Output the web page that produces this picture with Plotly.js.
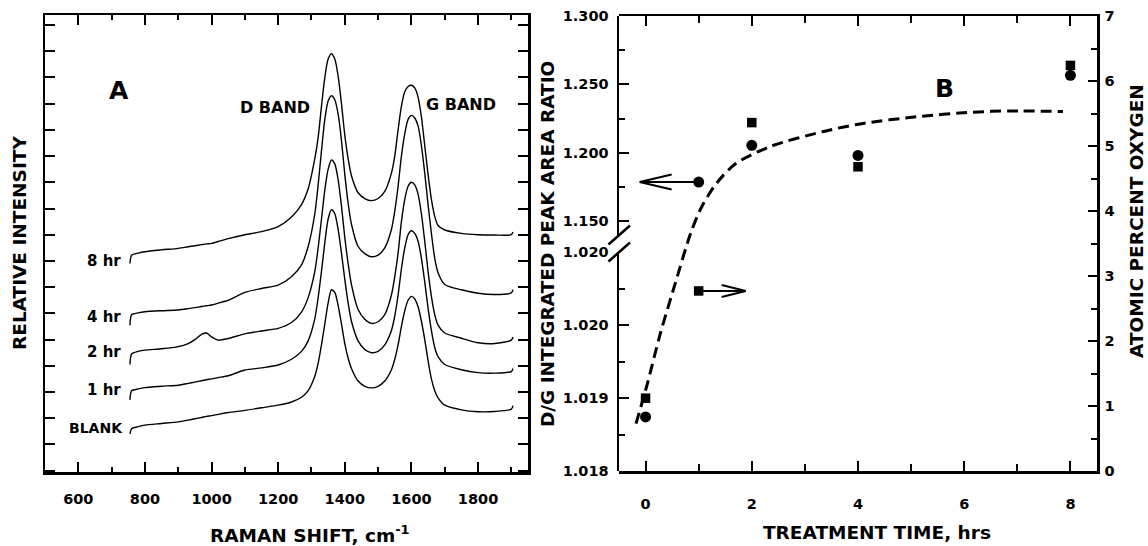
<!DOCTYPE html>
<html>
<head>
<meta charset="utf-8">
<script src="https://cdn.plot.ly/plotly-3.0.1.min.js"></script>
<style>html,body{margin:0;padding:0;background:#fff}#chart{width:1148px;height:546px}</style>
</head>
<body>
<div id="chart"></div>
<script>
// ---------- Panel A : Raman spectra ----------
const ramanShift = [755, 760, 780, 800, 850, 900, 930, 950, 970, 985, 1000, 1020, 1050, 1100, 1150, 1200, 1240, 1270, 1290, 1310, 1320, 1330, 1340, 1350, 1360, 1370, 1380, 1390, 1400, 1410, 1420, 1440, 1460, 1480, 1500, 1520, 1540, 1550, 1560, 1570, 1580, 1590, 1600, 1610, 1620, 1630, 1640, 1650, 1660, 1670, 1680, 1700, 1750, 1800, 1850, 1900, 1905];
const specBlank = [1.40, 1.60, 1.68, 1.74, 1.80, 1.86, 1.93, 1.98, 2.03, 2.07, 2.10, 2.15, 2.22, 2.30, 2.40, 2.50, 2.62, 2.80, 3.05, 3.60, 4.10, 4.80, 5.60, 6.40, 6.90, 6.80, 6.30, 5.60, 4.85, 4.30, 3.90, 3.42, 3.22, 3.16, 3.22, 3.42, 3.85, 4.25, 4.80, 5.50, 6.10, 6.50, 6.65, 6.55, 6.25, 5.70, 5.00, 4.20, 3.50, 3.05, 2.78, 2.50, 2.32, 2.25, 2.26, 2.35, 2.48];
const spec1hr = [2.70, 3.05, 3.12, 3.17, 3.22, 3.26, 3.33, 3.38, 3.43, 3.47, 3.50, 3.55, 3.62, 3.84, 3.92, 4.03, 4.25, 4.55, 4.95, 5.80, 6.60, 7.60, 8.70, 9.60, 9.95, 9.80, 9.20, 8.30, 7.30, 6.40, 5.70, 4.95, 4.62, 4.50, 4.55, 4.80, 5.35, 5.90, 6.70, 7.70, 8.50, 9.00, 9.15, 9.05, 8.75, 8.10, 7.20, 6.20, 5.35, 4.70, 4.35, 4.05, 3.85, 3.74, 3.72, 3.78, 3.90];
const spec2hr = [4.05, 4.45, 4.55, 4.60, 4.65, 4.73, 4.85, 5.00, 5.20, 5.25, 5.10, 4.98, 5.04, 5.22, 5.33, 5.43, 5.65, 6.05, 6.60, 7.60, 8.50, 9.60, 10.70, 11.50, 11.85, 11.70, 11.10, 10.10, 8.90, 7.90, 7.10, 6.15, 5.78, 5.62, 5.68, 5.95, 6.70, 7.40, 8.30, 9.50, 10.35, 10.85, 11.00, 10.90, 10.55, 9.80, 8.75, 7.60, 6.65, 5.95, 5.55, 5.25, 5.05, 4.88, 4.85, 4.98, 5.10];
const spec4hr = [5.55, 5.95, 6.02, 6.06, 6.10, 6.13, 6.18, 6.22, 6.26, 6.29, 6.32, 6.39, 6.50, 6.80, 6.95, 7.08, 7.40, 7.85, 8.55, 9.80, 10.90, 12.20, 13.40, 14.10, 14.30, 14.15, 13.60, 12.60, 11.30, 10.20, 9.40, 8.55, 8.28, 8.16, 8.22, 8.50, 9.20, 9.90, 10.85, 12.00, 12.85, 13.40, 13.55, 13.45, 13.15, 12.40, 11.35, 10.15, 9.05, 8.10, 7.55, 7.10, 6.90, 6.77, 6.72, 6.78, 6.90];
const spec8hr = [7.90, 8.22, 8.30, 8.35, 8.42, 8.48, 8.54, 8.58, 8.62, 8.65, 8.67, 8.74, 8.85, 9.00, 9.12, 9.31, 9.68, 10.15, 10.75, 11.90, 12.70, 13.90, 15.00, 15.70, 15.90, 15.70, 15.05, 14.00, 12.80, 11.90, 11.25, 10.60, 10.38, 10.30, 10.38, 10.65, 11.35, 12.00, 13.00, 13.90, 14.45, 14.65, 14.70, 14.60, 14.25, 13.50, 12.40, 11.30, 10.35, 9.70, 9.35, 9.18, 9.05, 9.00, 8.99, 9.00, 9.10];
const spectraLabels = ['BLANK', '1 hr', '2 hr', '4 hr', '8 hr'];
const spectraLabelY = [1.61, 3.07, 4.51, 5.87, 8.01];
const ramanTicks = [600, 800, 1000, 1200, 1400, 1600, 1800];

// ---------- Panel B : treatment time ----------
const treatTime = [0, 1, 2, 4, 8];
const dgRatio = [1.01874, 1.1785, 1.2054, 1.1980, 1.2566];
const atomicO = [1.12, 2.77, 5.36, 4.68, 6.24];
const fitTime = [-0.18, 0.02, 0.28, 0.56, 0.85, 1.06, 1.34, 1.70, 2.34, 3.33, 4.04, 5.10, 6.16, 6.86, 7.86];
const fitO = [0.73, 1.30, 2.12, 2.89, 3.66, 4.07, 4.43, 4.73, 4.99, 5.22, 5.34, 5.45, 5.52, 5.54, 5.53];
const timeTicks = [0, 2, 4, 6, 8];
const dgUpperTicks = [1.150, 1.200, 1.250, 1.300];
const dgUpperMinor = [1.175, 1.225, 1.275];
const dgLowerTicks = [1.018, 1.019, 1.020, 1.021];
const dgLowerText = ['1.018', '1.019', '1.020', '1.020'];
const dgLowerMinor = [1.0185, 1.0195, 1.0205];

// ---------- geometry helpers ----------
const W = 1148, H = 546;
const fx = px => px / W;
const fy = py => 1 - py / H;
const FONT = 'DejaVu Sans, Liberation Sans, Arial, sans-serif';
const ink = '#000';

const traces = [];
const specs = [specBlank, spec1hr, spec2hr, spec4hr, spec8hr];
specs.forEach((s, i) => traces.push({
  x: ramanShift, y: s, type: 'scatter', mode: 'lines', name: spectraLabels[i],
  line: {color: ink, width: 1.4, shape: 'spline', smoothing: 0.7},
  xaxis: 'x', yaxis: 'y', hoverinfo: 'skip'
}));

traces.push({
  x: fitTime, y: fitO, type: 'scatter', mode: 'lines',
  line: {color: ink, width: 3, dash: '11px,6px', shape: 'spline', smoothing: 0.8},
  xaxis: 'x2', yaxis: 'y2', cliponaxis: false
});
traces.push({
  x: treatTime, y: atomicO, type: 'scatter', mode: 'markers',
  marker: {symbol: 'square', size: 9.5, color: ink},
  xaxis: 'x2', yaxis: 'y2', cliponaxis: false
});
const lowT = [], lowR = [], upT = [], upR = [];
treatTime.forEach((t, i) => {
  if (dgRatio[i] < 1.1) { lowT.push(t); lowR.push(dgRatio[i]); }
  else { upT.push(t); upR.push(dgRatio[i]); }
});
traces.push({
  x: upT, y: upR, type: 'scatter', mode: 'markers',
  marker: {symbol: 'circle', size: 11, color: ink},
  xaxis: 'x2', yaxis: 'y3', cliponaxis: false
});
traces.push({
  x: lowT, y: lowR, type: 'scatter', mode: 'markers',
  marker: {symbol: 'circle', size: 11, color: ink},
  xaxis: 'x2', yaxis: 'y4', cliponaxis: false
});

const tickFont = {family: FONT, size: 14.5, color: ink, weight: 'bold'};
const baseAxis = {
  showgrid: false, zeroline: false, showline: true, linecolor: ink, linewidth: 2.5,
  ticks: 'inside', tickcolor: ink, tickwidth: 2, tickfont: tickFont, fixedrange: true
};

const layout = {
  width: W, height: H, autosize: false,
  margin: {l: 0, r: 0, t: 0, b: 0, pad: 0},
  paper_bgcolor: '#fff', plot_bgcolor: 'rgba(0,0,0,0)',
  showlegend: false,
  xaxis: Object.assign({}, baseAxis, {
    domain: [fx(45), fx(528)], range: [500, 1950], anchor: 'y',
    tickmode: 'array', tickvals: ramanTicks, ticklen: 10, mirror: 'ticks',
    ticklabelstandoff: 12,
    minor: {ticks: 'inside', dtick: 100, tick0: 500, ticklen: 5, tickwidth: 2, tickcolor: ink}
  }),
  yaxis: Object.assign({}, baseAxis, {
    domain: [fy(472), fy(15)], range: [-0.05, 17.38], anchor: 'x',
    tickmode: 'linear', tick0: 0, dtick: 1, ticklen: 10, mirror: 'ticks',
    showticklabels: false
  }),
  xaxis2: Object.assign({}, baseAxis, {
    domain: [fx(619), fx(1097)], range: [-0.5, 8.5], anchor: 'y2',
    tickmode: 'array', tickvals: timeTicks, ticklen: 10, mirror: 'ticks',
    ticklabelstandoff: 18,
    minor: {ticks: 'inside', dtick: 1, tick0: 0, ticklen: 7, tickwidth: 2, tickcolor: ink}
  }),
  yaxis2: Object.assign({}, baseAxis, {
    domain: [fy(471), fy(16)], range: [0, 7], anchor: 'x2', side: 'right',
    tickmode: 'linear', tick0: 0, dtick: 1, ticklen: 9, ticklabelstandoff: 2,
    minor: {ticks: 'inside', dtick: 0.5, tick0: 0, ticklen: 6, tickwidth: 2, tickcolor: ink}
  }),
  yaxis3: Object.assign({}, baseAxis, {
    domain: [fy(235), fy(16)], range: [1.13975, 1.300], anchor: 'x2', side: 'left',
    tickmode: 'array', tickvals: dgUpperTicks, tickformat: '.3f', ticklen: 10,
    ticklabelstandoff: 5,
    minor: {ticks: 'inside', tickmode: 'array', tickvals: dgUpperMinor, ticklen: 6, tickwidth: 2, tickcolor: ink}
  }),
  yaxis4: Object.assign({}, baseAxis, {
    domain: [fy(471), fy(252)], range: [1.018, 1.021], anchor: 'x2', side: 'left',
    tickmode: 'array', tickvals: dgLowerTicks, ticktext: dgLowerText, ticklen: 10,
    ticklabelstandoff: 5,
    minor: {ticks: 'inside', tickmode: 'array', tickvals: dgLowerMinor, ticklen: 6, tickwidth: 2, tickcolor: ink}
  }),
  shapes: [],
  annotations: []
};

// axis-break slashes on the left axis of panel B
[235, 252].forEach(cy => layout.shapes.push({
  type: 'line', xref: 'paper', yref: 'paper',
  x0: fx(608.5), y0: fy(cy + 9.5), x1: fx(630), y1: fy(cy - 9.5),
  line: {color: ink, width: 2.5}
}));

// arrows that point from the t = 1 h markers to their axes
layout.shapes.push({
  type: 'path', xref: 'x2', yref: 'y3', xsizemode: 'pixel', ysizemode: 'pixel',
  xanchor: treatTime[1], yanchor: dgRatio[1],
  path: 'M -5,0 L -59,0 M -27,7.5 L -59,0 L -27,-7.5',
  line: {color: ink, width: 2}
});
layout.shapes.push({
  type: 'path', xref: 'x2', yref: 'y2', xsizemode: 'pixel', ysizemode: 'pixel',
  xanchor: treatTime[1], yanchor: atomicO[1],
  path: 'M 4,0 L 47,0 M 23,6 L 47,0 L 23,-6',
  line: {color: ink, width: 2}
});

const ann = (o) => layout.annotations.push(Object.assign({
  showarrow: false, xanchor: 'center', yanchor: 'middle',
  font: {family: FONT, size: 18.5, color: ink, weight: 'bold'}
}, o));

// panel A texts
ann({xref: 'x', yref: 'y', x: 723, y: 14.5, text: 'A', font: {family: FONT, size: 25, color: ink, weight: 'bold'}});
ann({xref: 'x', yref: 'y', x: 1189, y: 13.86, text: 'D BAND', font: {family: FONT, size: 16, color: ink, weight: 'bold'}});
ann({xref: 'x', yref: 'y', x: 1750, y: 13.95, text: 'G BAND', font: {family: FONT, size: 16, color: ink, weight: 'bold'}});
spectraLabels.forEach((t, i) => ann({
  xref: 'x', yref: 'y', x: i === 0 ? 740 : 734, y: spectraLabelY[i], text: t, xanchor: 'right',
  font: {family: FONT, size: i === 0 ? 14 : 15, color: ink, weight: 'bold'}
}));
ann({xref: 'paper', yref: 'paper', x: fx(20), y: fy(243), text: 'RELATIVE INTENSITY', textangle: -90});
ann({xref: 'x', yref: 'paper', x: 1297, y: fy(534), text: 'RAMAN SHIFT, cm<sup>-1</sup>'});

// panel B texts
ann({xref: 'x2', yref: 'y2', x: 5.62, y: 5.89, text: 'B', font: {family: FONT, size: 25, color: ink, weight: 'bold'}});
ann({xref: 'paper', yref: 'paper', x: fx(548), y: fy(244), text: 'D/G INTEGRATED PEAK AREA RATIO', textangle: -90});
ann({xref: 'paper', yref: 'paper', x: fx(1136), y: fy(221), text: 'ATOMIC PERCENT OXYGEN', textangle: -90});
ann({xref: 'x2', yref: 'paper', x: 4.35, y: fy(532), text: 'TREATMENT TIME, hrs'});

Plotly.newPlot('chart', traces, layout, {staticPlot: true, displayModeBar: false});
</script>
</body>
</html>
